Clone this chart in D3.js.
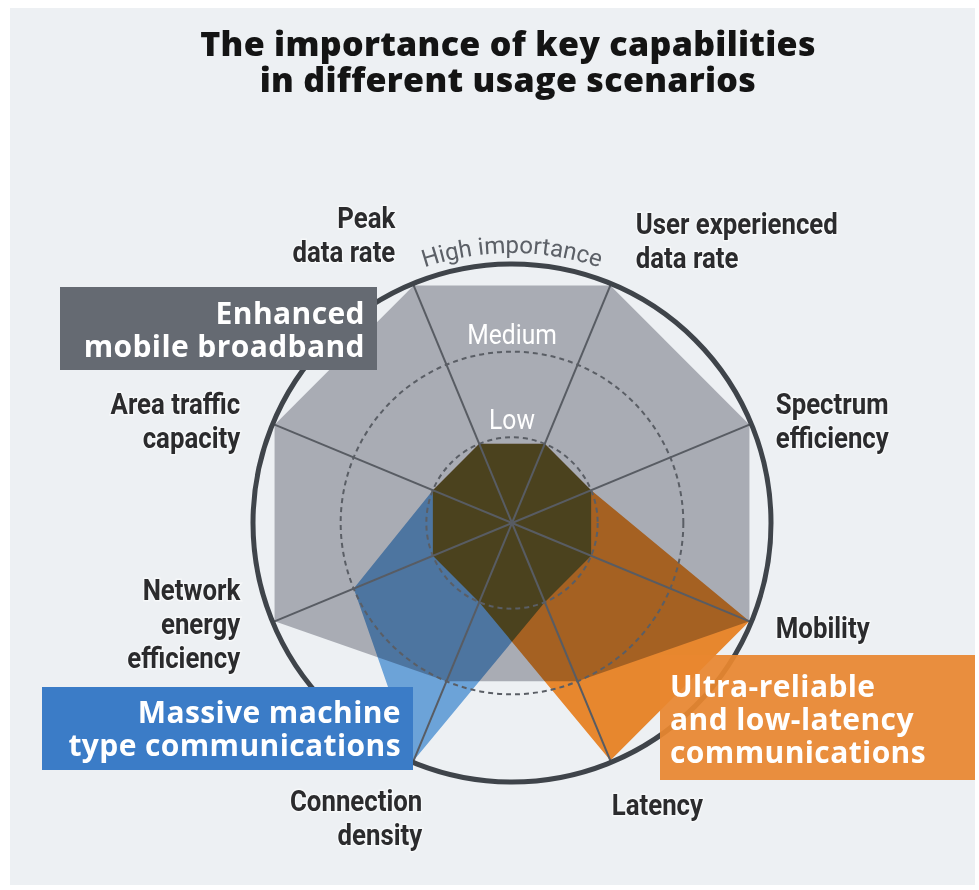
<!DOCTYPE html>
<html>
<head>
<meta charset="utf-8">
<script src="https://d3js.org/d3.v7.min.js"></script>
<style>
    body { margin: 0; background: #ffffff; }
    svg { display: block; }
</style>
</head>
<body>
<div id="chart"></div>
<script>
// Data
const titleLines = ["The importance of key capabilities", "in different usage scenarios"];
const axes = ["Peak data rate", "User experienced data rate", "Spectrum efficiency", "Mobility",
    "Latency", "Connection density", "Network energy efficiency", "Area traffic capacity"];
const axisLabelLines = [["Peak", "data rate"], ["User experienced", "data rate"], ["Spectrum", "efficiency"],
    ["Mobility"], ["Latency"], ["Connection", "density"], ["Network", "energy", "efficiency"], ["Area traffic", "capacity"]];
const levels = [1, 2, 3];
const levelLabels = ["Low", "Medium", "High importance"];
const scenarios = ["Enhanced mobile broadband", "Massive machine type communications", "Ultra-reliable and low-latency communications"];
const embbValues = [3, 3, 3, 3, 2, 2, 3, 3];
const mmtcValues = [1, 1, 1, 1, 1, 3, 2, 1];
const urllcValues = [1, 1, 1, 3, 3, 1, 1, 1];

// Layout
const width = 979, height = 890;
const cx = 512, cy = 523;
const maxR = 257;
const narrowScale = 0.86; // condensed look for the axis labels
const fontNarrow = "Roboto, 'DejaVu Sans', sans-serif";
const fontBold = "'Open Sans', 'DejaVu Sans', sans-serif";
const labelNudge = [[0, -6], [7, 0], [-18, 15], [-18, -12], [-17, 0], [27, 13], [10, -16], [10, 15]];
const legendBoxes = [
    { x: 60, y: 287, w: 317, h: 83, fill: "#656a72", opacity: 1, anchor: "end", lines: ["Enhanced", "mobile broadband"], base: 37 },
    { x: 42, y: 687, w: 371, h: 83, fill: "#3b7cc7", opacity: 1, anchor: "end", lines: ["Massive machine", "type communications"], base: 36 },
    { x: 660, y: 655, w: 315, h: 125, fill: "#e8862f", opacity: 0.93, anchor: "start", lines: ["Ultra-reliable", "and low-latency", "communications"], base: 42 }
];

const svg = d3.select("#chart").append("svg")
    .attr("width", width)
    .attr("height", height);

svg.append("rect")
    .attr("x", 10).attr("y", 8)
    .attr("width", 965).attr("height", 877)
    .attr("fill", "#edf0f3");

// Title
svg.append("g").selectAll("text")
    .data(titleLines)
    .enter().append("text")
    .attr("x", 508)
    .attr("y", (d, i) => 56 + i * 36)
    .attr("text-anchor", "middle")
    .style("font-family", fontBold)
    .style("font-weight", "800")
    .style("font-size", "34px")
    .style("letter-spacing", "0.3px")
    .style("fill", "#141414")
    .text(d => d);

// Scales
const angle = d3.scaleLinear()
    .domain([0, axes.length])
    .range([-Math.PI / 8, 2 * Math.PI - Math.PI / 8]);
const r = d3.scaleLinear().domain([0, 3]).range([0, maxR]);

const g = svg.append("g").attr("transform", `translate(${cx},${cy})`);

const radarLine = d3.lineRadial()
    .angle((d, i) => angle(i))
    .radius(d => r(d))
    .curve(d3.curveLinearClosed);

// Scenario polygons
g.append("path")
    .attr("d", radarLine(embbValues))
    .attr("fill", "#a9acb4");

g.append("path")
    .attr("d", radarLine(mmtcValues))
    .attr("fill", "#74ade3")
    .style("mix-blend-mode", "multiply");

g.append("path")
    .attr("d", radarLine(urllcValues))
    .attr("fill", "#f98f30")
    .style("mix-blend-mode", "multiply");

// Spokes
g.append("g").selectAll("line")
    .data(axes)
    .enter().append("line")
    .attr("x1", 0).attr("y1", 0)
    .attr("x2", (d, i) => Math.sin(angle(i)) * (maxR + 2))
    .attr("y2", (d, i) => -Math.cos(angle(i)) * (maxR + 2))
    .attr("stroke", "#585c63")
    .attr("stroke-width", 2);

// Dashed rings
g.append("g").selectAll("circle")
    .data(levels.slice(0, 2))
    .enter().append("circle")
    .attr("r", d => r(d))
    .attr("fill", "none")
    .attr("stroke", "#5a5e65")
    .attr("stroke-width", 2)
    .attr("stroke-dasharray", "5,4");

// Outer ring
g.append("circle")
    .attr("r", r(3) + 2)
    .attr("fill", "none")
    .attr("stroke", "#3f444a")
    .attr("stroke-width", 5);

// Ring labels
g.append("g").selectAll("text")
    .data(levels.slice(0, 2))
    .enter().append("text")
    .attr("transform", d => `translate(0,${-(r(d) + 8)}) scale(0.88,1)`)
    .attr("text-anchor", "middle")
    .style("font-family", fontNarrow)
    .style("font-size", "28px")
    .style("fill", "#ffffff")
    .text((d, i) => levelLabels[i]);

const highR = r(3) + 13;
svg.append("defs").append("path")
    .attr("id", "highArc")
    .attr("d", `M ${cx - highR},${cy} A ${highR} ${highR} 0 0 1 ${cx + highR},${cy}`);

svg.append("text")
    .style("font-family", fontNarrow)
    .style("font-size", "24px")
    .style("fill", "#5c6067")
    .append("textPath")
    .attr("href", "#highArc")
    .attr("startOffset", "50%")
    .attr("text-anchor", "middle")
    .text(levelLabels[2]);

// Axis labels
const labelR = 305;
const axisLabel = svg.append("g").selectAll("text")
    .data(axes)
    .enter().append("text")
    .attr("text-anchor", (d, i) => Math.sin(angle(i)) > 0 ? "start" : "end")
    .attr("transform", (d, i) => {
        const x = cx + Math.sin(angle(i)) * labelR + labelNudge[i][0];
        const y = cy - Math.cos(angle(i)) * labelR + labelNudge[i][1];
        return `translate(${x},${y}) scale(${narrowScale},1)`;
    })
    .style("font-family", fontNarrow)
    .style("font-weight", "bold")
    .style("font-size", "30px")
    .style("fill", "#2b2b2d")
    .style("stroke", "#ffffff")
    .style("stroke-width", 3)
    .style("stroke-opacity", 0.5)
    .style("paint-order", "stroke");

axisLabel.selectAll("tspan")
    .data((d, i) => axisLabelLines[i].map((t, k, arr) => ({ t, k, n: arr.length })))
    .enter().append("tspan")
    .attr("x", 0)
    .attr("y", d => (d.k - (d.n - 1) / 2) * 34 + 10)
    .text(d => d.t);

// Scenario boxes
const box = svg.append("g").selectAll("g")
    .data(legendBoxes)
    .enter().append("g");

box.append("rect")
    .attr("x", d => d.x).attr("y", d => d.y)
    .attr("width", d => d.w).attr("height", d => d.h)
    .attr("fill", d => d.fill)
    .attr("fill-opacity", d => d.opacity);

box.append("text")
    .attr("text-anchor", d => d.anchor)
    .style("font-family", fontBold)
    .style("font-weight", "bold")
    .style("font-size", "30px")
    .style("letter-spacing", "0.4px")
    .style("fill", "#ffffff")
    .attr("aria-label", (d, i) => scenarios[i])
    .selectAll("tspan")
    .data(d => d.lines.map((t, k) => ({ t, k, b: d })))
    .enter().append("tspan")
    .attr("x", d => d.b.anchor === "end" ? d.b.x + d.b.w - 12 : d.b.x + 10)
    .attr("y", d => d.b.y + d.b.base + d.k * 33)
    .text(d => d.t);
</script>
</body>
</html>
